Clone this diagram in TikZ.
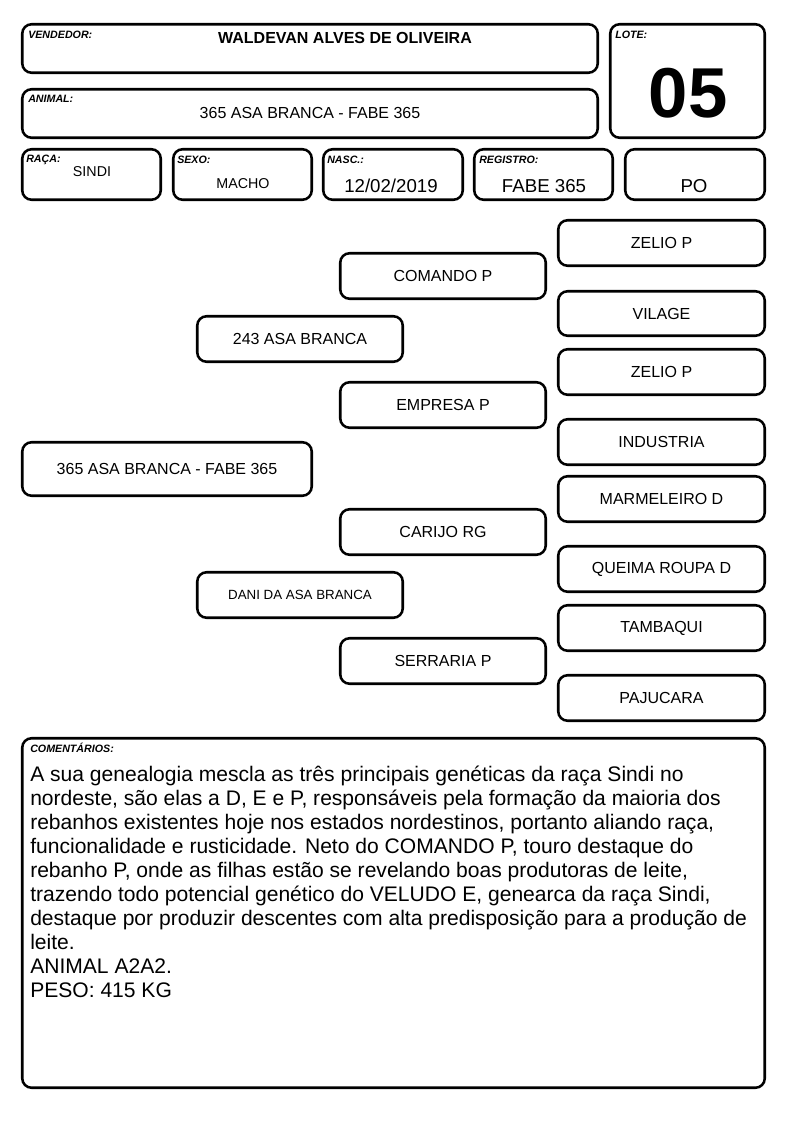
\documentclass[tikz,border=0pt]{standalone}
\usepackage{fontspec}
\setmainfont{Liberation Sans}
\newcommand\bx[6]{\node[pbox,minimum width={(#4-#2-2.5)*0.75pt},minimum height={(#5-#3-2.5)*0.75pt}] (#1) at ({(#2+#4)/2},{(#3+#5)/2}) {#6};}
\tikzset{
  pbox/.style={draw=black,line width=1.9pt,rounded corners=7pt,fill=white,inner sep=0pt,align=center,font=\fontsize{12}{14}\selectfont},
  lbl/.style={inner sep=0pt,anchor=base west,font=\fontsize{8}{9}\selectfont\bfseries\itshape},
  val/.style={inner sep=0pt,anchor=base}
}
\begin{document}
\begin{tikzpicture}[x=0.75pt,y=-0.75pt]
\useasboundingbox[fill=white] (0,0) rectangle (794,1123);
% header
\bx{vend}{21}{23}{599}{74}{}
\bx{anim}{21}{88}{599}{139}{}
\bx{lote}{609}{23}{766}{139}{}
\bx{raca}{21}{148}{162}{201}{}
\bx{sexo}{172}{148}{313}{201}{}
\bx{nasc}{322}{148}{464}{201}{}
\bx{reg}{473}{148}{614}{201}{}
\bx{po}{624}{148}{766}{201}{}
\node[lbl] (lvend) at (28,39) {VENDEDOR:};
\node[val,font=\fontsize{12}{14}\selectfont\bfseries] (tvend) at (345,43.7) {WALDEVAN ALVES DE OLIVEIRA};
\node[lbl] (lanim) at (28,103) {ANIMAL:};
\node[val,font=\fontsize{12}{14}\selectfont] (tanim) at (310,118.7) {365 ASA BRANCA - FABE 365};
\node[lbl] (llote) at (615,39) {LOTE:};
\node[val,font=\fontsize{53}{60}\selectfont\bfseries] (tlote) at (688,118) {05};
\node[lbl] (lraca) at (26,163) {RAÇA:};
\node[val,font=\fontsize{10.7}{12}\selectfont] (traca) at (92,177) {SINDI};
\node[lbl] (lsexo) at (177,164) {SEXO:};
\node[val,font=\fontsize{10.7}{12}\selectfont] (tsexo) at (243,189) {MACHO};
\node[lbl] (lnasc) at (327,164) {NASC.:};
\node[val,font=\fontsize{14}{16}\selectfont] (tnasc) at (391,192.7) {12/02/2019};
\node[lbl] (lreg) at (479,164) {REGISTRO:};
\node[val,font=\fontsize{14}{16}\selectfont] (treg) at (544,192.7) {FABE 365};
\node[val,font=\fontsize{14}{16}\selectfont] (tpo) at (694,192.7) {PO};
% pedigree
\bx{a0}{21}{441}{313}{497}{365 ASA BRANCA - FABE 365}
\bx{s1}{196}{315}{404}{363}{243 ASA BRANCA}
\bx{d1}{196}{571}{404}{619}{\fontsize{10}{12}\selectfont DANI DA ASA BRANCA}
\bx{ss}{339}{252}{547}{300}{COMANDO P}
\bx{sd}{339}{381}{547}{429}{EMPRESA P}
\bx{ds}{339}{508}{547}{556}{CARIJO RG}
\bx{dd}{339}{637}{547}{685}{SERRARIA P}
\bx{g1}{557}{219}{766}{267}{ZELIO P}
\bx{g2}{557}{290}{766}{337}{VILAGE}
\bx{g3}{557}{348}{766}{396}{ZELIO P}
\bx{g4}{557}{418}{766}{466}{INDUSTRIA}
\bx{g5}{557}{475}{766}{523}{MARMELEIRO D}
\bx{g6}{557}{545}{766}{593}{QUEIMA ROUPA D}
\bx{g7}{557}{604}{766}{652}{TAMBAQUI}
\bx{g8}{557}{674}{766}{722}{PAJUCARA}
% comments
\bx{com}{21}{737}{766}{1089}{}
\node[lbl] (lcom) at (30,752) {COMENTÁRIOS:};
\node[inner sep=0pt,anchor=base west,align=left,font=\fontsize{15.8}{18}\selectfont] (tcom) at (30,997.6) {A sua genealogia mescla as três principais genéticas da raça Sindi no\\
nordeste, são elas a D, E e P, responsáveis pela formação da maioria dos\\
rebanhos existentes hoje nos estados nordestinos, portanto aliando raça,\\
funcionalidade e rusticidade. Neto do COMANDO P, touro destaque do\\
rebanho P, onde as filhas estão se revelando boas produtoras de leite,\\
trazendo todo potencial genético do VELUDO E, genearca da raça Sindi,\\
destaque por produzir descentes com alta predisposição para a produção de\\
leite.\\
ANIMAL A2A2.\\
PESO: 415 KG};
\end{tikzpicture}
\end{document}
